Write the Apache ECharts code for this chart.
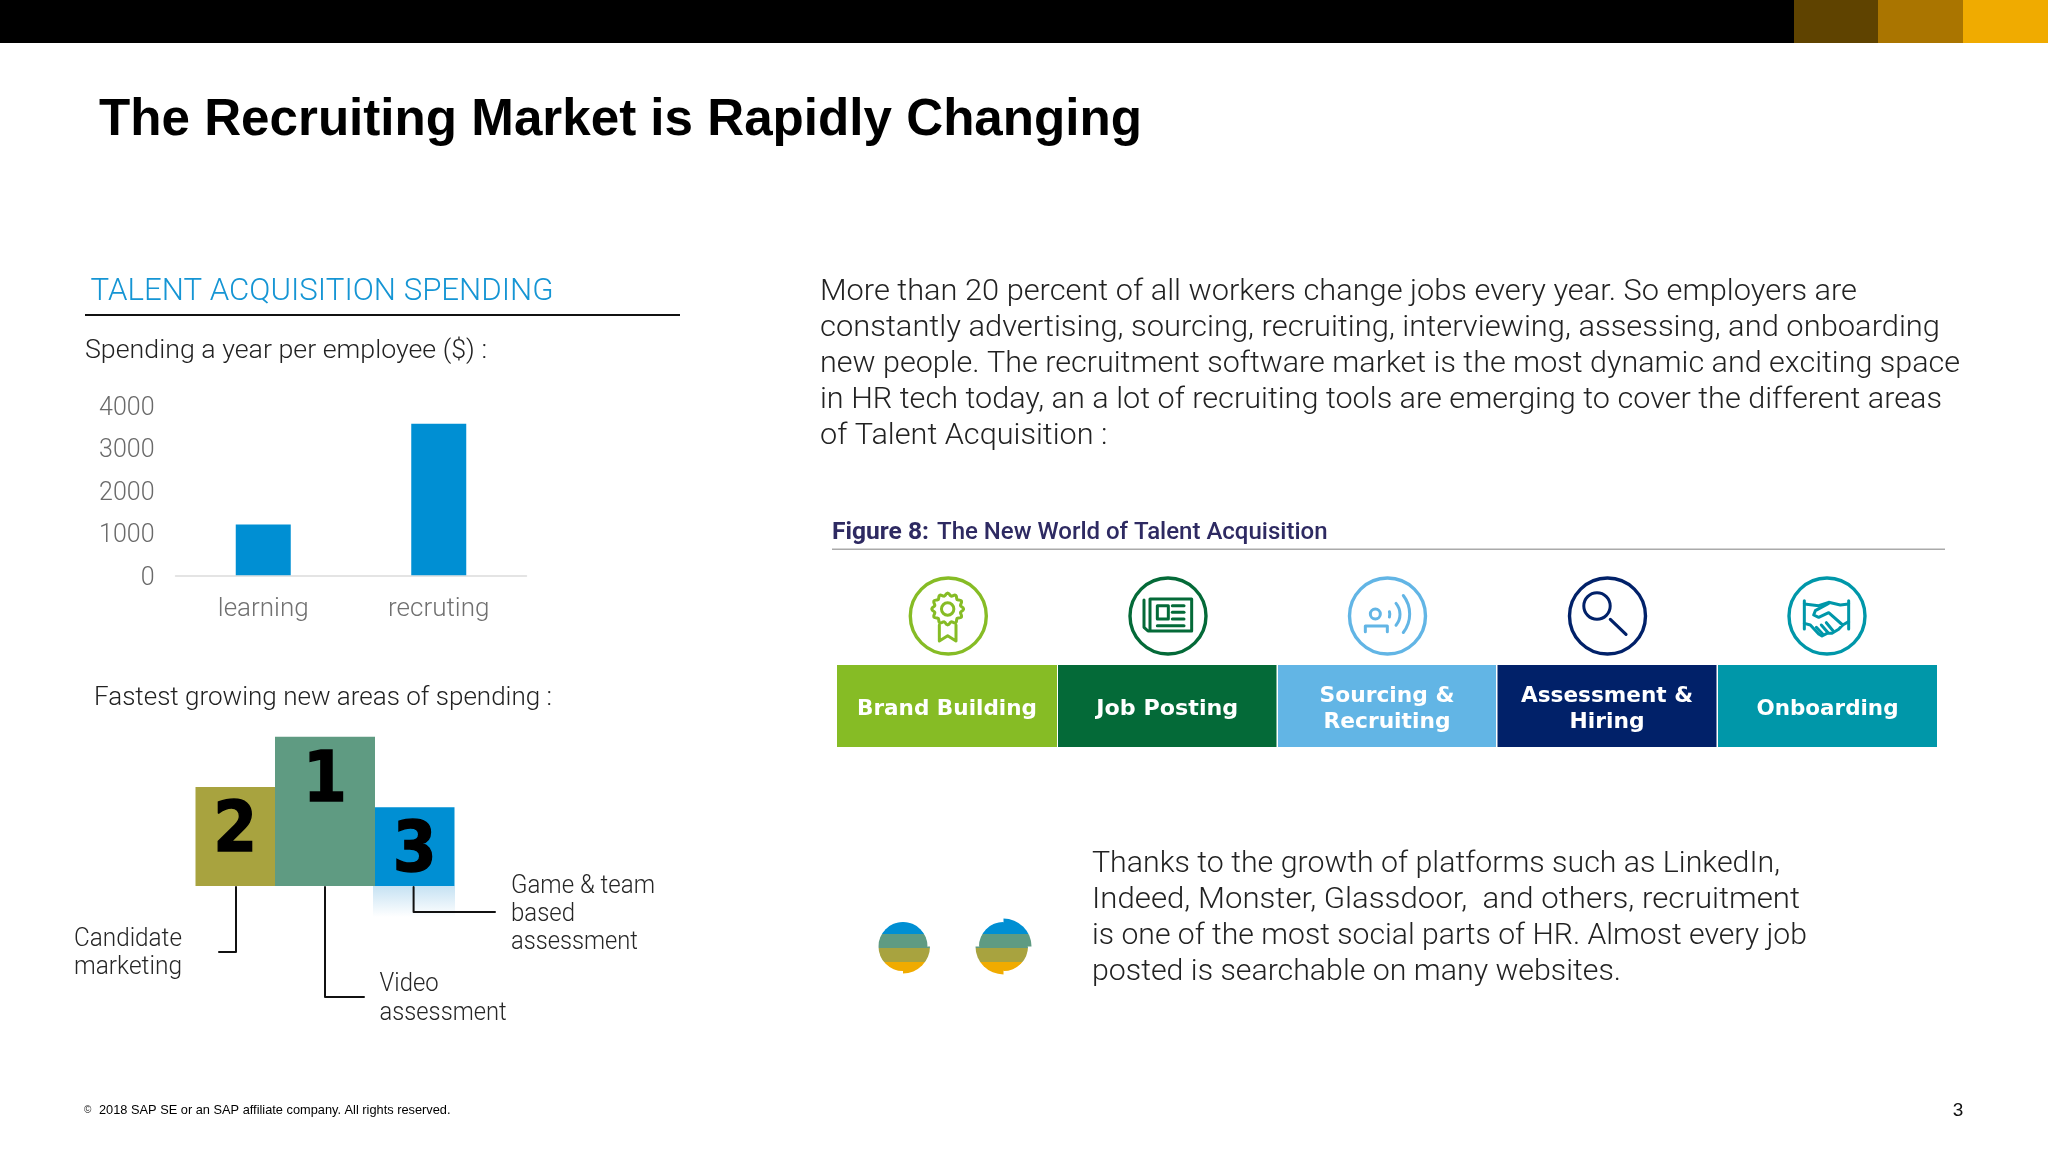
<!DOCTYPE html>
<html><head><meta charset="utf-8">
<style>html,body{margin:0;padding:0;background:#fff}#c{width:2048px;height:1152px}</style>
<script src="https://cdn.jsdelivr.net/npm/echarts@6/dist/echarts.min.js"></script>
</head><body><div id="c"></div>
<script>
const slideTitle = "The Recruiting Market is Rapidly Changing";
const sectionHeading = "TALENT ACQUISITION SPENDING";
const spendingCaption = "Spending a year per employee ($) :";
const spendingCategories = ["learning", "recruting"];
const spendingValues = [1195, 3570];
const spendingTicks = [0, 1000, 2000, 3000, 4000];
const podiumCaption = "Fastest growing new areas of spending :";
const podiumRanks = ["2", "1", "3"];
const podiumHeights = [99, 149.3, 78.7];
const podiumEdges = [0, 79.5, 179.5, 259];
const introLines = [
  "More than 20 percent of all workers change jobs every year. So employers are",
  "constantly advertising, sourcing, recruiting, interviewing, assessing, and onboarding",
  "new people. The recruitment software market is the most dynamic and exciting space",
  "in HR tech today, an a lot of recruiting tools are emerging to cover the different areas",
  "of Talent Acquisition :"];
const socialLines = [
  "Thanks to the growth of platforms such as LinkedIn,",
  "Indeed, Monster, Glassdoor,  and others, recruitment",
  "is one of the most social parts of HR. Almost every job",
  "posted is searchable on many websites."];
const stageNames = [["Brand Building"], ["Job Posting"], ["Sourcing &", "Recruiting"], ["Assessment &", "Hiring"], ["Onboarding"]];
const footerText = "2018 SAP SE or an SAP affiliate company. All rights reserved.";

const FONT = 'Roboto';
const mctx = document.createElement('canvas').getContext('2d');
function T(x, y, s, size, fill, w, o) {
  o = o || {};
  const fam = o.family || FONT, wt = o.weight || 300;
  mctx.font = wt + ' ' + size + 'px "' + fam + '"';
  const m = mctx.measureText(s).width;
  return {type: 'text', silent: true, z: 20, x: x, y: y, scaleX: w ? w / m : 1,
    style: {text: s, fontFamily: fam, fontSize: size, fontWeight: wt, fill: fill, align: o.align || 'left', verticalAlign: 'middle'}};
}
function R(x0, y0, x1, y1, fill, z) {
  return {type: 'rect', silent: true, z: z || 5, shape: {x: x0, y: y0, width: x1 - x0, height: y1 - y0}, style: {fill: fill}};
}
function L(pts, color, lw, z) {
  return {type: 'polyline', silent: true, z: z || 10, shape: {points: pts}, style: {stroke: color, lineWidth: lw, fill: null, lineCap: 'round', lineJoin: 'round'}};
}
function C(cx, cy, r, color, lw) {
  return {type: 'circle', silent: true, z: 10, shape: {cx: cx, cy: cy, r: r}, style: {stroke: color, lineWidth: lw, fill: null}};
}
function A(cx, cy, r, a0, a1, color, lw) {
  const d = Math.PI / 180;
  return {type: 'arc', silent: true, z: 10, shape: {cx: cx, cy: cy, r: r, startAngle: a0 * d, endAngle: a1 * d, clockwise: true}, style: {stroke: color, lineWidth: lw, fill: null, lineCap: 'round'}};
}

const g = [];
// top band
g.push(R(0, 0, 1794, 43, '#000'), R(1794, 0, 1878, 43, '#5f4300'), R(1878, 0, 1963, 43, '#aa7500'), R(1963, 0, 2048, 43, '#f0ab00'));
g.push(T(99, 120.5, slideTitle, 52, '#000', 1043, {family: 'Liberation Sans', weight: 700}));
// left column
g.push(T(90.6, 292, sectionHeading, 32, '#1595d4', 463));
g.push(R(85, 314, 680, 316, '#111'));
g.push(T(85, 351.5, spendingCaption, 26, '#222', 402));
g.push(T(94, 698.5, podiumCaption, 26, '#222', 458));
// podium leaders
g.push(L([[236, 887], [236, 952], [219, 952]], '#111', 2));
g.push(L([[325, 887], [325, 997], [364, 997]], '#111', 2));
g.push(L([[413.6, 887], [413.6, 912], [495, 912]], '#111', 2));
g.push({type: 'rect', silent: true, z: 5, shape: {x: 373, y: 886, width: 82, height: 31},
  style: {fill: new echarts.graphic.LinearGradient(0, 0, 0, 1, [{offset: 0, color: '#c6e2f3'}, {offset: 1, color: '#ffffff'}])}});
const tl = '#262626';
g.push(T(74, 939.5, 'Candidate', 26, tl, 108), T(74, 967.5, 'marketing', 26, tl, 108));
g.push(T(511, 886, 'Game & team', 26, tl, 144), T(511, 914, 'based', 26, tl, 64), T(511, 942.5, 'assessment', 26, tl, 127));
g.push(T(379.6, 984.5, 'Video', 26, tl, 59), T(379.6, 1013, 'assessment', 26, tl, 127));
// footer
g.push(T(84, 1110.5, '©', 10, '#222', 0, {family: 'Liberation Sans', weight: 400}));
g.push(T(99, 1110.5, footerText, 13, '#000', 351.5, {family: 'Liberation Sans', weight: 400}));
g.push(T(1958, 1110.5, '3', 19, '#111', 0, {family: 'Liberation Sans', weight: 400, align: 'center'}));
// intro paragraph
const introEnds = [1857, 1940, 1960, 1942, 1107.5];
introLines.forEach((s, i) => g.push(T(820, 292.5 + i * 35.9, s, 30, '#222', introEnds[i] - 820)));
const socialEnds = [1780, 1800, 1807, 1621];
socialLines.forEach((s, i) => g.push(T(1092, 864.5 + i * 36, s, 30, '#222', socialEnds[i] - 1092)));
// figure
g.push(T(832, 532.5, 'Figure 8:', 24, '#2e2a62', 97, {weight: 700}));
g.push(T(937, 532.5, 'The New World of Talent Acquisition', 24, '#2e2a62', 390.5, {weight: 500}));
g.push(R(832, 548.5, 1945, 550, '#aaaaaa'));
const stageColors = ['#86bc25', '#046a38', '#62b5e5', '#012169', '#0097a9'];
const blockX = [[837, 1057], [1058, 1276.5], [1278, 1496], [1497.5, 1716.5], [1718, 1937]];
const nameW = [[180], [142], [135, 127], [172, 75], [142]];
stageNames.forEach((lines, i) => {
  const b = blockX[i];
  g.push(R(b[0], 665, b[1], 747, stageColors[i]));
  const mid = (b[0] + b[1]) / 2;
  lines.forEach((s, j) => {
    const y = lines.length === 1 ? 709 : 696 + j * 26.7;
    g.push(T(mid, y, s, 22, '#fff', nameW[i][j], {family: 'DejaVu Sans', weight: 700, align: 'center'}));
  });
});
// icons (drawn in crop units, 1/3 px)
const ic = (ox, oy) => (p) => [ox + p[0] / 3, oy + p[1] / 3];
const icp = (f, a) => a.map(f);
const circleX = [948.3, 1168, 1387.5, 1607.5, 1827];
circleX.forEach((x, i) => g.push(C(x, 616, 38, stageColors[i], 3.4)));
// 1 rosette
(function () {
  const c = stageColors[0], f = ic(900, 570), cen = f([143, 117]), pts = [];
  for (let i = 0; i < 96; i++) { const a = i / 96 * Math.PI * 2; const r = 14.6 + 1.3 * Math.cos(a * 12); pts.push([cen[0] + r * Math.cos(a), cen[1] + r * Math.sin(a)]); }
  pts.push(pts[0]);
  g.push(L(pts, c, 3), C(cen[0], cen[1], 6.2, c, 3));
  g.push(L(icp(f, [[118, 165], [118, 213], [143, 197], [168, 213], [168, 165]]), c, 3));
})();
// 2 newspaper
(function () {
  const c = stageColors[1], f = ic(1120, 570);
  g.push(L(icp(f, [[72, 90], [72, 172], [84, 183], [215, 183], [215, 87], [90, 87], [90, 183]]), c, 3));
  g.push(L(icp(f, [[112, 107], [145, 107], [145, 147], [112, 147], [112, 107]]), c, 3));
  [107, 127, 147].forEach(y => g.push(L(icp(f, [[157, y], [192, y]]), c, 3)));
  g.push(L(icp(f, [[112, 167], [192, 167]]), c, 3));
})();
// 3 person and sound
(function () {
  const c = stageColors[2], f = ic(1338, 570);
  const h = f([112, 132]);
  g.push(C(h[0], h[1], 5, c, 3));
  g.push(L(icp(f, [[82, 185], [82, 168], [148, 168], [148, 185]]), c, 3));
  const a = f([130, 133]), b = f([135, 133]), d = f([125, 132]);
  g.push(A(a[0], a[1], 8.5, -18, 18, c, 3), A(b[0], b[1], 17, -40, 40, c, 3), A(d[0], d[1], 30, -38, 38, c, 3));
})();
// 4 magnifier
(function () {
  const c = stageColors[3], f = ic(1557, 570), m = f([120, 108]);
  g.push(C(m[0], m[1], 13.2, c, 3));
  g.push(L(icp(f, [[160, 148], [207, 193]]), c, 3.2));
})();
// 5 handshake
(function () {
  const c = stageColors[4], f = ic(1777, 570);
  [[[82, 92], [82, 177]], [[215, 92], [215, 177]],
   [[82, 102], [125, 107], [155, 97], [190, 105], [215, 102]],
   [[155, 100], [115, 122], [110, 135], [125, 142], [155, 128], [197, 165], [185, 178], [165, 190], [150, 190], [135, 198], [125, 192], [100, 165], [82, 160]],
   [[197, 165], [215, 155]],
   [[118, 172], [137, 192]], [[133, 165], [152, 187]], [[148, 158], [168, 182]]
  ].forEach(p => g.push(L(icp(f, p), c, 3)));
})();
// split-sphere marks: four quadrants, each with banded fill
function mark(cx, cy, radii) {
  const stops = [[0, '#008fd3'], [.26, '#008fd3'], [.26, '#5f9b82'], [.52, '#5f9b82'], [.52, '#a8a33f'], [.78, '#a8a33f'], [.78, '#f0ab00'], [1, '#f0ab00']]
    .map(s => ({offset: s[0], color: s[1]}));
  const fill = new echarts.graphic.LinearGradient(0, cy - 27, 0, cy + 27, stops, true);
  const q = Math.PI / 2;
  g.push({type: 'circle', silent: true, z: 9, shape: {cx: cx, cy: cy, r: 24}, style: {fill: fill}});
  radii.forEach((r, i) => g.push({type: 'sector', silent: true, z: 10,
    shape: {cx: cx, cy: cy, r0: 0, r: r, startAngle: i * q, endAngle: (i + 1) * q, clockwise: true}, style: {fill: fill}}));
}
// lower-right, lower-left, upper-left, upper-right
mark(903, 946.5, [27, 24.5, 24.5, 24.5]);
mark(1003.5, 946.5, [24.5, 28, 24.5, 28]);

const rankLabelOffset = 46;
const option = {
  backgroundColor: '#fff',
  animation: false,
  grid: [
    {left: 175.5, top: 405.5, width: 351, height: 169.8},
    {left: 195.5, top: 736.7, width: 259, height: 149.3}
  ],
  xAxis: [
    {gridIndex: 0, type: 'category', data: spendingCategories, axisTick: {show: false},
     axisLine: {lineStyle: {color: '#dcdcdc', width: 1.5}},
     axisLabel: {color: '#707070', fontFamily: FONT, fontWeight: 300, fontSize: 26, margin: 21}},
    {gridIndex: 1, type: 'value', min: 0, max: 259, show: false}
  ],
  yAxis: [
    {gridIndex: 0, type: 'value', min: spendingTicks[0], max: spendingTicks[spendingTicks.length - 1], interval: spendingTicks[1] - spendingTicks[0],
     splitLine: {show: false}, axisLine: {show: false}, axisTick: {show: false},
     axisLabel: {color: '#6a6a6a', fontFamily: FONT, fontWeight: 300, fontSize: 25, margin: 21, verticalAlign: 'top', lineHeight: 6, formatter: v => String(v)}},
    {gridIndex: 1, type: 'value', min: 0, max: 149.3, show: false}
  ],
  series: [
    {type: 'bar', xAxisIndex: 0, yAxisIndex: 0, data: spendingValues, barWidth: 55, itemStyle: {color: '#008fd3'}, z: 3},
    {type: 'custom', xAxisIndex: 1, yAxisIndex: 1, silent: true, z: 3,
     data: podiumHeights.map((h, i) => [podiumEdges[i], podiumEdges[i + 1], h, podiumRanks[i]]),
     dimensions: ['x0', 'x1', 'h', 'rank'],
     encode: {x: [0, 1], y: 2},
     renderItem: function (p, api) {
       const a = api.coord([api.value(0), api.value(2)]), b = api.coord([api.value(1), 0]);
       const colors = ['#a8a33f', '#5f9b82', '#008fd3'];
       return {type: 'group', children: [
         {type: 'rect', shape: {x: a[0], y: a[1], width: b[0] - a[0], height: b[1] - a[1]}, style: {fill: colors[p.dataIndex]}},
         {type: 'text', z2: 5, x: (a[0] + b[0]) / 2, y: a[1] + rankLabelOffset, scaleX: 0.9,
          style: {text: podiumRanks[p.dataIndex], fontFamily: 'DejaVu Sans', fontWeight: 700, fontSize: 70, fill: '#000', stroke: '#000', lineWidth: 1.5, align: 'center', verticalAlign: 'middle'}}
       ]};
     }}
  ],
  graphic: {elements: g}
};
echarts.init(document.getElementById('c'), null, {renderer: 'canvas', width: 2048, height: 1152}).setOption(option);
</script></body></html>
